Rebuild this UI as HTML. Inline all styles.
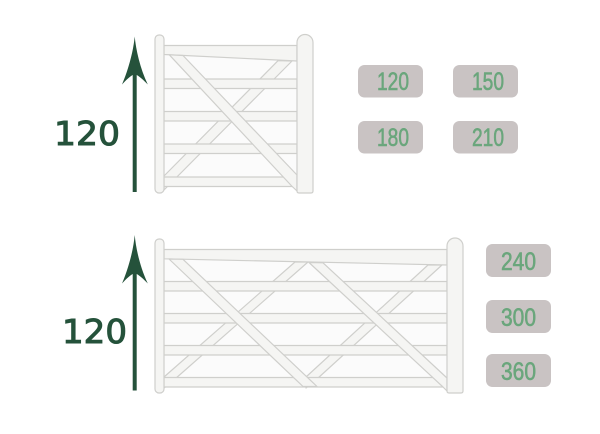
<!DOCTYPE html>
<html>
<head>
<meta charset="utf-8">
<style>
html,body{margin:0;padding:0;background:#fff;width:600px;height:434px;overflow:hidden}
svg{display:block}
.g{fill:#f5f5f3;stroke:#cfcfcc;stroke-width:1.2;stroke-linejoin:round}
.in{fill:#fbfbfb;stroke:none}
.big{font-family:"DejaVu Sans",sans-serif;font-size:32.5px;fill:#25523b;stroke:#25523b;stroke-width:1}
.b{fill:#c9c3c3}
.t{font-family:"Liberation Sans",sans-serif;font-size:25px;fill:#6aa67c;stroke:#6aa67c;stroke-width:.6}
.a{fill:#25523b}
</style>
</head>
<body>
<svg width="600" height="434" viewBox="0 0 600 434" xmlns="http://www.w3.org/2000/svg">
<!-- Top gate -->
<rect class="in" x="164" y="50" width="133" height="137"/>
<polygon class="g" points="164,176 278,60.7 292,61 164,190"/>
<rect class="g" x="164" y="79" width="133" height="9.5"/>
<rect class="g" x="164" y="111.5" width="133" height="9.5"/>
<rect class="g" x="164" y="144" width="133" height="9.5"/>
<rect class="g" x="164" y="177" width="133" height="9.5"/>
<polygon class="g" points="164,45.5 297,45.5 297,61 164,54.5"/>
<polygon class="g" points="169.3,54.8 183,55.5 297,175 297,191 291.7,186"/>
<rect class="g" x="155" y="35" width="9" height="158" rx="4"/>
<path class="g" d="M297 42.5a8 8 0 0 1 16 0V191q0 2-2 2H299q-2 0-2-2Z"/>
<!-- Top arrow -->
<path class="a" d="M134.7 36.5C136 50 140 68 147.8 84.5C143.5 80 139.5 76.5 136.7 75V192H132.7V75C130 76.5 126 80 122 84.5C129 68 133.5 50 134.7 36.5Z"/>
<text class="big" x="54" y="145" textLength="66" lengthAdjust="spacingAndGlyphs">120</text>
<!-- Top badges -->
<rect class="b" x="358" y="65" width="65" height="32.5" rx="6.5"/>
<rect class="b" x="453" y="65" width="65" height="32.5" rx="6.5"/>
<rect class="b" x="358" y="121" width="65" height="32.5" rx="6.5"/>
<rect class="b" x="453" y="121" width="65" height="32.5" rx="6.5"/>
<text class="t" x="377" y="90" textLength="32" lengthAdjust="spacingAndGlyphs">120</text>
<text class="t" x="472" y="90" textLength="32" lengthAdjust="spacingAndGlyphs">150</text>
<text class="t" x="377" y="146" textLength="32" lengthAdjust="spacingAndGlyphs">180</text>
<text class="t" x="472" y="146" textLength="32" lengthAdjust="spacingAndGlyphs">210</text>
<!-- Bottom gate -->
<rect class="in" x="164" y="255" width="283" height="132"/>
<polygon class="g" points="164,377 295,262 308,262 175,379 164,388"/>
<polygon class="g" points="306,377 428,265 442,265 317,379 306,388"/>
<rect class="g" x="164" y="281.5" width="283" height="9.5"/>
<rect class="g" x="164" y="313.5" width="283" height="9.5"/>
<rect class="g" x="164" y="345.5" width="283" height="9.5"/>
<rect class="g" x="164" y="377.5" width="283" height="9.5"/>
<polygon class="g" points="164,249.5 447,249.5 447,265 164,258.8"/>
<polygon class="g" points="169,259 183,259.3 317,386.5 303,386.5"/>
<polygon class="g" points="309,262.5 323,262.8 447,378 447,391 443,387"/>
<rect class="g" x="155" y="239" width="9" height="154" rx="4"/>
<path class="g" d="M447 246a8 8 0 0 1 16 0V391q0 2-2 2H449q-2 0-2-2Z"/>
<!-- Bottom arrow -->
<path class="a" d="M134.7 235C136 249 140 267 147.8 283.5C143.5 279 139.5 275.5 136.7 274V390.5H132.7V274C130 275.5 126 279 122 283.5C129 267 133.5 249 134.7 235Z"/>
<text class="big" x="62" y="343" textLength="65" lengthAdjust="spacingAndGlyphs">120</text>
<!-- Bottom badges -->
<rect class="b" x="486" y="244" width="65" height="33" rx="6.5"/>
<rect class="b" x="486" y="300" width="65" height="33" rx="6.5"/>
<rect class="b" x="486" y="354" width="65" height="33" rx="6.5"/>
<text class="t" x="501" y="270" textLength="35" lengthAdjust="spacingAndGlyphs">240</text>
<text class="t" x="501" y="326" textLength="35" lengthAdjust="spacingAndGlyphs">300</text>
<text class="t" x="501" y="380" textLength="35" lengthAdjust="spacingAndGlyphs">360</text>
</svg>
</body>
</html>
